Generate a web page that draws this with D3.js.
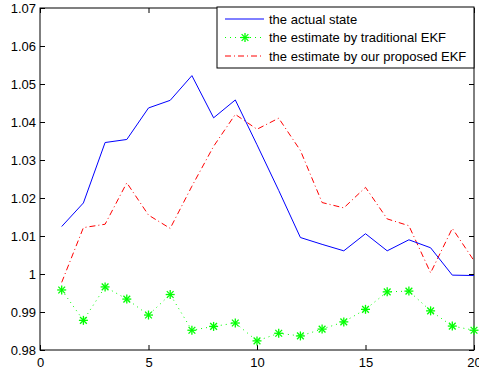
<!DOCTYPE html>
<head>
  <meta charset="utf-8">
  <style>
    body { margin: 0; background: #fff; }
    text { font-family: "Liberation Sans", Arial, sans-serif; }
  </style>
</head>
<body>
<script src="https://cdn.jsdelivr.net/npm/d3@7"></script>
<script>
  // data
  var steps = d3.range(1, 21);
  var actualState = [1.0125, 1.0187, 1.0346, 1.0354, 1.0437, 1.0457, 1.0522, 1.0411, 1.0458, 1.0340,
                     1.0220, 1.0096, 1.0078, 1.0061, 1.0106, 1.0061, 1.0090, 1.0069, 0.9997, 0.9996];
  var traditionalEKF = [0.9958, 0.9878, 0.9966, 0.9934, 0.9892, 0.9946, 0.9852, 0.9862, 0.9871, 0.9824,
                        0.9844, 0.9837, 0.9855, 0.9874, 0.9907, 0.9953, 0.9955, 0.9903, 0.9863, 0.9852];
  var proposedEKF = [0.9978, 1.0122, 1.0131, 1.0240, 1.0155, 1.0120, 1.0231, 1.0336, 1.0420, 1.0381,
                     1.0410, 1.0325, 1.0188, 1.0174, 1.0228, 1.0145, 1.0127, 1.0003, 1.0120, 1.0035];
  var xTicks = [0, 5, 10, 15, 20];
  var yTicks = [0.98, 0.99, 1.00, 1.01, 1.02, 1.03, 1.04, 1.05, 1.06, 1.07];
  var legendLabels = ["the actual state", "the estimate by traditional EKF", "the estimate by our proposed EKF"];

  var margin = {top: 8, right: 5, bottom: 26, left: 40};
  var W = 479, H = 376;
  var width = W - margin.left - margin.right;
  var height = H - margin.top - margin.bottom;

  var svg = d3.select("body").append("svg")
    .attr("width", W).attr("height", H);

  svg.append("defs").append("clipPath").attr("id", "plotclip")
    .append("rect").attr("width", width).attr("height", height);

  var g = svg.append("g")
    .attr("transform", "translate(" + margin.left + "," + margin.top + ")");

  var x = d3.scaleLinear().domain([0, 20]).range([0, width]);
  var y = d3.scaleLinear().domain([0.98, 1.07]).range([height, 0]);

  var fmtY = function(d) { return Math.abs(d - 1) < 1e-9 ? "1" : d3.format(".2f")(d); };

  // axes: ticks pointing inward, matlab style
  var tickLen = 5;
  g.append("g").attr("transform", "translate(0," + height + ")")
    .call(d3.axisBottom(x).tickValues(xTicks).tickSizeInner(-tickLen).tickSizeOuter(0).tickPadding(8));
  g.append("g").call(d3.axisTop(x).tickValues(xTicks).tickSizeInner(-tickLen).tickSizeOuter(0).tickFormat(""));
  g.append("g")
    .call(d3.axisLeft(y).tickValues(yTicks).tickSizeInner(-tickLen).tickSizeOuter(0).tickPadding(4).tickFormat(fmtY));
  g.append("g").attr("transform", "translate(" + width + ",0)")
    .call(d3.axisRight(y).tickValues(yTicks).tickSizeInner(-tickLen).tickSizeOuter(0).tickFormat(""));

  svg.selectAll(".domain").remove();
  svg.selectAll(".tick line").attr("stroke", "#000");
  svg.selectAll(".tick text").attr("font-size", 13).attr("fill", "#000");

  g.append("rect").attr("width", width).attr("height", height)
    .attr("fill", "none").attr("stroke", "#000").attr("stroke-width", 1);

  var line = d3.line().x(function(d, i) { return x(steps[i]); }).y(function(d) { return y(d); });

  var plot = g.append("g").attr("clip-path", "url(#plotclip)");

  plot.append("path").datum(traditionalEKF).attr("d", line)
    .attr("fill", "none").attr("stroke", "#00ff00").attr("stroke-width", 1)
    .attr("stroke-dasharray", "1,4");
  plot.append("path").datum(proposedEKF).attr("d", line)
    .attr("fill", "none").attr("stroke", "#ff0000").attr("stroke-width", 1)
    .attr("stroke-dasharray", "6,3,1,3");
  plot.append("path").datum(actualState).attr("d", line)
    .attr("fill", "none").attr("stroke", "#0000ff").attr("stroke-width", 1);

  function star(sel, r) {
    sel.append("line").attr("x1", -r).attr("x2", r).attr("y1", 0).attr("y2", 0);
    sel.append("line").attr("x1", 0).attr("x2", 0).attr("y1", -r).attr("y2", r);
    var k = r * 0.75;
    sel.append("line").attr("x1", -k).attr("x2", k).attr("y1", -k).attr("y2", k);
    sel.append("line").attr("x1", -k).attr("x2", k).attr("y1", k).attr("y2", -k);
  }

  g.append("g").selectAll("g").data(traditionalEKF).enter().append("g")
    .attr("transform", function(d, i) { return "translate(" + x(steps[i]) + "," + y(d) + ")"; })
    .attr("stroke", "#00ff00").attr("stroke-width", 1.3)
    .each(function() { star(d3.select(this), 4.5); });

  // legend
  var lg = svg.append("g").attr("transform", "translate(217,7)");
  lg.append("rect").attr("width", 257).attr("height", 61)
    .attr("fill", "#fff").attr("stroke", "#000").attr("stroke-width", 1);
  var styles = [
    {color: "#0000ff", dash: null},
    {color: "#00ff00", dash: "1,4"},
    {color: "#ff0000", dash: "6,3,1,3"}
  ];
  legendLabels.forEach(function(lbl, i) {
    var yy = 12 + i * 18.5;
    lg.append("line").attr("x1", 8).attr("x2", 47).attr("y1", yy).attr("y2", yy)
      .attr("stroke", styles[i].color).attr("stroke-dasharray", styles[i].dash);
    if (i == 1) {
      var s = lg.append("g").attr("transform", "translate(28," + yy + ")")
        .attr("stroke", "#00ff00").attr("stroke-width", 1.3);
      star(s, 4.5);
    }
    lg.append("text").attr("x", 52).attr("y", yy + 4.5)
      .attr("font-size", 13).attr("fill", "#000").text(lbl);
  });
</script>
</body>
